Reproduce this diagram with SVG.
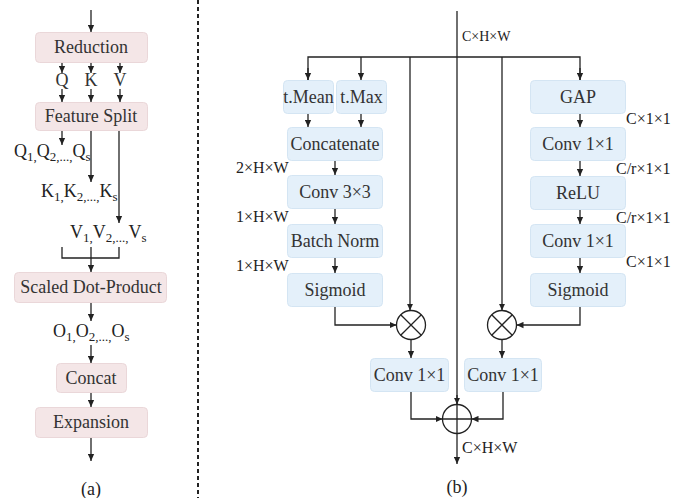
<svg xmlns="http://www.w3.org/2000/svg" width="686" height="498" viewBox="0 0 686 498">
<style>
text{font-family:"Liberation Serif","Times New Roman",serif;fill:#222}
.bt{font-size:18px;text-anchor:middle;fill:#333}
.pk{fill:#f4e6e7;stroke:#ead7d9;stroke-width:1}
.bl{fill:#e4f0fa;stroke:#d4e5f3;stroke-width:1}
.ln{fill:none;stroke:#222;stroke-width:1.3}
.ar{fill:none;stroke:#222;stroke-width:1.3;marker-end:url(#ah)}
.lb{font-size:16px}
.sub{font-size:13px}
</style>
<defs>
<marker id="ah" viewBox="0 0 10 10" refX="10" refY="5" markerWidth="7" markerHeight="7" markerUnits="userSpaceOnUse" orient="auto">
<path d="M0,0.5 L10,5 L0,9.5 z" fill="#222"/>
</marker>
</defs>
<rect width="686" height="498" fill="#fff"/>

<!-- panel (a) nodes -->
<g id="reduction"><rect class="pk" x="35.5" y="32.5" width="112" height="30" rx="4"/><text class="bt" x="91" y="53">Reduction</text></g>
<g id="qkv">
<text class="bt" x="62" y="86">Q</text><text class="bt" x="91" y="86">K</text><text class="bt" x="120" y="86">V</text>
</g>
<g id="feature-split"><rect class="pk" x="35.5" y="102.5" width="112" height="28" rx="4"/><text class="bt" x="91" y="122">Feature Split</text></g>
<g id="q-split"><text x="14" y="157" font-size="18">Q<tspan class="sub" dy="4">1,</tspan><tspan dy="-4">Q</tspan><tspan class="sub" dy="4">2,...,</tspan><tspan dy="-4">Q</tspan><tspan class="sub" dy="4">s</tspan></text></g>
<g id="k-split"><text x="41" y="197" font-size="18">K<tspan class="sub" dy="4">1,</tspan><tspan dy="-4">K</tspan><tspan class="sub" dy="4">2,...,</tspan><tspan dy="-4">K</tspan><tspan class="sub" dy="4">s</tspan></text></g>
<g id="v-split"><text x="70" y="238" font-size="18">V<tspan class="sub" dy="4">1,</tspan><tspan dy="-4">V</tspan><tspan class="sub" dy="4">2,...,</tspan><tspan dy="-4">V</tspan><tspan class="sub" dy="4">s</tspan></text></g>
<g id="scaled-dot-product"><rect class="pk" x="14.5" y="272.5" width="152" height="30" rx="4"/><text class="bt" x="91" y="293">Scaled Dot-Product</text></g>
<g id="o-split"><text x="53" y="337" font-size="18">O<tspan class="sub" dy="4">1,</tspan><tspan dy="-4">O</tspan><tspan class="sub" dy="4">2,...,</tspan><tspan dy="-4">O</tspan><tspan class="sub" dy="4">s</tspan></text></g>
<g id="concat"><rect class="pk" x="56.5" y="363.5" width="70" height="29" rx="4"/><text class="bt" x="91" y="384">Concat</text></g>
<g id="expansion"><rect class="pk" x="35.5" y="407.5" width="112" height="30" rx="4"/><text class="bt" x="91" y="428">Expansion</text></g>
<text class="bt" x="91" y="495" style="fill:#222">(a)</text>

<!-- divider -->
<line x1="198" y1="0" x2="198" y2="498" stroke="#222" stroke-width="2" stroke-dasharray="4,3"/>

<!-- panel (b) nodes -->
<g id="t-mean"><rect class="bl" x="283.5" y="80.5" width="50" height="33" rx="4"/><text class="bt" x="308.5" y="103">t.Mean</text></g>
<g id="t-max"><rect class="bl" x="336.5" y="80.5" width="50" height="33" rx="4"/><text class="bt" x="361.5" y="103">t.Max</text></g>
<g id="concatenate"><rect class="bl" x="287.5" y="127.5" width="95" height="33" rx="4"/><text class="bt" x="335" y="150">Concatenate</text></g>
<g id="conv3"><rect class="bl" x="287.5" y="175.5" width="95" height="33" rx="4"/><text class="bt" x="335" y="198">Conv 3×3</text></g>
<g id="batch-norm"><rect class="bl" x="287.5" y="224.5" width="95" height="33" rx="4"/><text class="bt" x="335" y="247">Batch Norm</text></g>
<g id="sigmoid-l"><rect class="bl" x="287.5" y="273.5" width="95" height="33" rx="4"/><text class="bt" x="335" y="296">Sigmoid</text></g>
<g id="gap"><rect class="bl" x="530.5" y="80.5" width="95" height="33" rx="4"/><text class="bt" x="578" y="103">GAP</text></g>
<g id="conv1-r1"><rect class="bl" x="530.5" y="127.5" width="95" height="33" rx="4"/><text class="bt" x="578" y="150">Conv 1×1</text></g>
<g id="relu"><rect class="bl" x="530.5" y="176.5" width="95" height="33" rx="4"/><text class="bt" x="578" y="199">ReLU</text></g>
<g id="conv1-r2"><rect class="bl" x="530.5" y="224.5" width="95" height="33" rx="4"/><text class="bt" x="578" y="247">Conv 1×1</text></g>
<g id="sigmoid-r"><rect class="bl" x="530.5" y="273.5" width="95" height="33" rx="4"/><text class="bt" x="578" y="296">Sigmoid</text></g>
<g id="mul-l"><circle class="ln" cx="411" cy="325" r="14.5"/><path class="ln" d="M400.7,314.7 L421.3,335.3 M421.3,314.7 L400.7,335.3"/></g>
<g id="mul-r"><circle class="ln" cx="502" cy="325" r="14.5"/><path class="ln" d="M491.7,314.7 L512.3,335.3 M512.3,314.7 L491.7,335.3"/></g>
<g id="conv1-bl"><rect class="bl" x="370.5" y="358.5" width="78" height="33" rx="4"/><text class="bt" x="409.5" y="381">Conv 1×1</text></g>
<g id="conv1-br"><rect class="bl" x="464.5" y="358.5" width="77" height="33" rx="4"/><text class="bt" x="503" y="381">Conv 1×1</text></g>
<g id="add"><circle class="ln" cx="457" cy="419" r="14.5"/><path class="ln" d="M442.5,419 H471.5 M457,404.5 V433.5"/></g>

<!-- labels (b) -->
<g id="labels">
<text x="462" y="41" font-size="14">C×H×W</text>
<text class="lb" x="236" y="173">2×H×W</text>
<text class="lb" x="236" y="222">1×H×W</text>
<text class="lb" x="236" y="271">1×H×W</text>
<text class="lb" x="626" y="124">C×1×1</text>
<text class="lb" x="616" y="174">C/r×1×1</text>
<text class="lb" x="616" y="223">C/r×1×1</text>
<text class="lb" x="626" y="267">C×1×1</text>
<text class="lb" x="462" y="453">C×H×W</text>
<text class="bt" x="457" y="493" style="fill:#222">(b)</text>
</g>

<!-- connectors -->
<g id="connectors">
<path class="ar" d="M91,10 V32"/>
<path class="ar" d="M62,63 V73"/><path class="ar" d="M91,63 V73"/><path class="ar" d="M120,63 V73"/>
<path class="ar" d="M62,89 V102"/><path class="ar" d="M91,89 V102"/><path class="ar" d="M120,89 V102"/>
<path class="ar" d="M62,131 V145"/>
<path class="ar" d="M91,131 V182"/>
<path class="ar" d="M119,131 V223"/>
<path class="ln" d="M62,247 V258 H119 V247"/>
<path class="ar" d="M91,247 V272"/>
<path class="ar" d="M91,303 V321"/>
<path class="ar" d="M91,345 V363"/>
<path class="ar" d="M91,393 V407"/>
<path class="ar" d="M91,438 V461"/>

<path class="ln" d="M457,11 V404.5"/>
<path class="ar" d="M457,395 V404.5"/>
<path class="ln" d="M308,80 V57 H580 V80"/>
<path class="ar" d="M308,68 V80"/>
<path class="ar" d="M361,57 V80"/>
<path class="ar" d="M580,68 V80"/>
<path class="ar" d="M410,57 V310.5"/>
<path class="ar" d="M502,57 V310.5"/>
<path class="ar" d="M308,114 V127"/><path class="ar" d="M361,114 V127"/>
<path class="ar" d="M335,161 V175"/>
<path class="ar" d="M335,209 V224"/>
<path class="ar" d="M335,258 V273"/>
<path class="ar" d="M335,307 V325 H396.5"/>
<path class="ar" d="M580,114 V127"/>
<path class="ar" d="M580,161 V176"/>
<path class="ar" d="M580,210 V224"/>
<path class="ar" d="M580,258 V273"/>
<path class="ar" d="M580,307 V325 H516.5"/>
<path class="ar" d="M411,339.5 V358"/>
<path class="ar" d="M502,339.5 V358"/>
<path class="ar" d="M411,392 V419 H442.5"/>
<path class="ar" d="M503,392 V419 H471.5"/>
<path class="ar" d="M457,433.5 V464"/>
</g>
</svg>
